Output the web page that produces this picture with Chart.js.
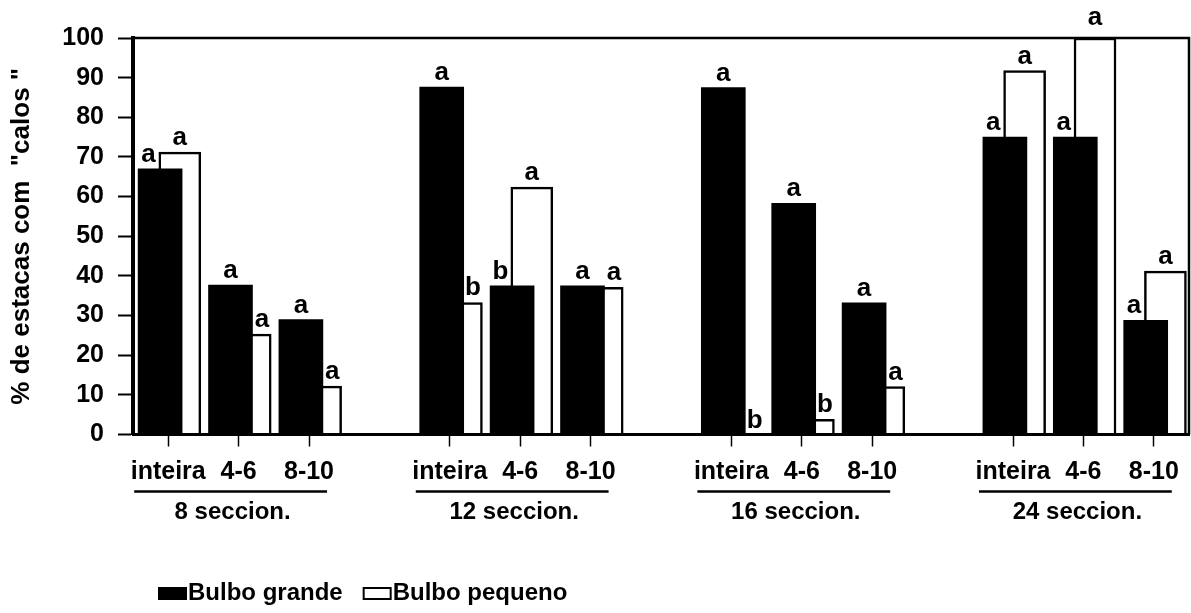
<!DOCTYPE html>
<html>
<head>
<meta charset="utf-8">
<title>% de estacas com "calos"</title>
<script src="https://cdn.jsdelivr.net/npm/chart.js"></script>
<style>
    html, body { margin: 0; padding: 0; background: #fff; }
    #grafico { display: block; }
</style>
</head>
<body>
<canvas id="grafico" width="1191" height="613"></canvas>
<script>
(function() {
    'use strict';

    // Posição de cada categoria no eixo x (um espaço vazio entre os grupos)
    var posicoes = [0, 1, 2, 4, 5, 6, 8, 9, 10, 12, 13, 14];
    var categorias = ['inteira', '4-6', '8-10', 'inteira', '4-6', '8-10',
                      'inteira', '4-6', '8-10', 'inteira', '4-6', '8-10'];
    var grupos = ['8 seccion.', '12 seccion.', '16 seccion.', '24 seccion.'];

    // % de estacas com "calos"
    var bulboGrande  = [67, 37.7, 29, 87.6, 37.5, 37.5, 87.5, 58.3, 33.2, 75, 75, 28.8];
    var bulboPequeno = [71.2, 25.3, 12.2, 33.3, 62.4, 37.1, 0, 3.8, 12.1, 91.8, 100, 41.2];

    // Letras do teste de médias
    var letrasGrande  = ['a', 'a', 'a', 'a', 'b', 'a', 'a', 'a', 'a', 'a', 'a', 'a'];
    var letrasPequeno = ['a', 'a', 'a', 'b', 'a', 'a', 'b', 'b', 'a', 'a', 'a', 'a'];

    var FONTE = '"Liberation Sans", Arial, Helvetica, sans-serif';

    /**
     * Letras acima das barras
     */
    var rotulosBarras = {
        id: 'rotulosBarras',
        afterDatasetsDraw: function(chart) {
            var c = chart.ctx;
            var grande = chart.getDatasetMeta(0).data;
            var pequeno = chart.getDatasetMeta(1).data;
            var topo = chart.chartArea.top;
            c.save();
            c.font = 'bold 26px ' + FONTE;
            c.fillStyle = '#000';
            c.textAlign = 'center';
            c.textBaseline = 'alphabetic';
            grande.forEach(function(g, i) {
                var p = pequeno[i];
                var gEsq = g.x - g.width / 2, gDir = g.x + g.width / 2;
                var pEsq = p.x - p.width / 2, pDir = p.x + p.width / 2;
                var xg = p.y < g.y ? (gEsq + pEsq) / 2 : g.x;
                var xp = g.y < p.y ? (gDir + pDir) / 2 : p.x;
                c.fillText(letrasGrande[i], xg, g.y - 7 - (g.y <= topo + 1 ? 6 : 0));
                c.fillText(letrasPequeno[i], xp, p.y - 7 - (p.y <= topo + 1 ? 6 : 0));
            });
            c.restore();
        }
    };

    /**
     * Moldura superior e direita da área do gráfico
     */
    var moldura = {
        id: 'moldura',
        afterDraw: function(chart) {
            var c = chart.ctx;
            var a = chart.chartArea;
            c.save();
            c.strokeStyle = '#000';
            c.lineWidth = 2.5;
            c.beginPath();
            c.moveTo(a.left, a.top);
            c.lineTo(a.right, a.top);
            c.lineTo(a.right, a.bottom);
            c.stroke();
            c.restore();
        }
    };

    /**
     * Nome de cada grupo, sublinhado, abaixo dos rótulos do eixo x
     */
    var nomesGrupos = {
        id: 'nomesGrupos',
        afterDraw: function(chart) {
            var c = chart.ctx;
            var xs = chart.scales.x;
            var base = chart.chartArea.bottom;
            c.save();
            c.strokeStyle = '#000';
            c.fillStyle = '#000';
            c.lineWidth = 2.5;
            c.font = 'bold 24px ' + FONTE;
            c.textAlign = 'center';
            c.textBaseline = 'alphabetic';
            grupos.forEach(function(nome, g) {
                var x0 = xs.getPixelForValue(posicoes[g * 3]);
                var x1 = xs.getPixelForValue(posicoes[g * 3 + 1]);
                var x2 = xs.getPixelForValue(posicoes[g * 3 + 2]);
                c.beginPath();
                c.moveTo(x0 - 34, base + 57);
                c.lineTo(x2 + 18, base + 57);
                c.stroke();
                c.fillText(nome, x1 - 6, base + 84);
            });
            c.restore();
        }
    };

    /**
     * Legenda no canto inferior esquerdo
     */
    var legenda = {
        id: 'legenda',
        afterDraw: function(chart) {
            var c = chart.ctx;
            var x = 158, yCaixa = 587, larguraCaixa = 29, alturaCaixa = 13, baseTexto = 600;
            c.save();
            c.font = 'bold 24px ' + FONTE;
            c.textBaseline = 'alphabetic';
            chart.data.datasets.forEach(function(ds) {
                c.fillStyle = ds.backgroundColor;
                c.fillRect(x, yCaixa, larguraCaixa, alturaCaixa);
                if (ds.borderWidth) {
                    c.strokeStyle = ds.borderColor;
                    c.lineWidth = 2;
                    c.strokeRect(x + 1, yCaixa + 1, larguraCaixa - 2, alturaCaixa - 2);
                }
                x += larguraCaixa + 1;
                c.fillStyle = '#000';
                c.fillText(ds.label, x, baseTexto);
                x += c.measureText(ds.label).width + 20;
            });
            c.restore();
        }
    };

    var ctx = document.getElementById('grafico').getContext('2d');
    new Chart(ctx, {
        type: 'bar',
        data: {
            datasets: [{
                label: 'Bulbo grande',
                data: bulboGrande.map(function(v, i) { return { x: posicoes[i] - 0.115, y: v }; }),
                backgroundColor: '#000',
                borderWidth: 0,
                barThickness: 44
            }, {
                label: 'Bulbo pequeno',
                data: bulboPequeno.map(function(v, i) { return { x: posicoes[i] + 0.165, y: v }; }),
                backgroundColor: '#fff',
                borderColor: '#000',
                borderWidth: 2.5,
                barThickness: 42
            }]
        },
        options: {
            responsive: false,
            animation: false,
            devicePixelRatio: 1,
            layout: { padding: { top: 38, right: 2, bottom: 0, left: 0 } },
            datasets: { bar: { grouped: false } },
            plugins: {
                legend: { display: false },
                tooltip: { enabled: false }
            },
            scales: {
                x: {
                    type: 'linear',
                    position: 'bottom',
                    min: -0.5,
                    max: 14.5,
                    offset: false,
                    afterBuildTicks: function(scale) {
                        scale.ticks = posicoes.map(function(p) { return { value: p }; });
                    },
                    afterFit: function(scale) { scale.height = 178.5; },
                    grid: {
                        offset: false,
                        drawOnChartArea: false,
                        tickLength: 12,
                        tickWidth: 1.5,
                        tickColor: '#000'
                    },
                    border: { display: true, color: '#000', width: 3, z: 1 },
                    ticks: {
                        autoSkip: false,
                        maxRotation: 0,
                        minRotation: 0,
                        padding: 11,
                        color: '#000',
                        font: { family: FONTE, size: 25, weight: 'bold' },
                        callback: function(v) {
                            var i = posicoes.indexOf(v);
                            return i >= 0 ? categorias[i] : '';
                        }
                    }
                },
                y: {
                    type: 'linear',
                    position: 'left',
                    min: 0,
                    max: 100,
                    afterFit: function(scale) { scale.width = 133; },
                    ticks: {
                        stepSize: 10,
                        padding: 14,
                        color: '#000',
                        font: { family: FONTE, size: 25, weight: 'bold' }
                    },
                    grid: {
                        drawOnChartArea: false,
                        tickLength: 15,
                        tickWidth: 2,
                        tickColor: '#000'
                    },
                    border: { display: true, color: '#000', width: 4 },
                    title: {
                        display: true,
                        text: '% de estacas com  "calos "',
                        color: '#000',
                        font: { family: FONTE, size: 26, weight: 'bold' },
                        padding: { top: 6, bottom: 0 }
                    }
                },
                yMenor: {
                    type: 'linear',
                    position: 'left',
                    min: 0,
                    max: 100,
                    afterBuildTicks: function(scale) {
                        var t = [];
                        for (var v = 0; v <= 100; v += 2) t.push({ value: v });
                        scale.ticks = t;
                    },
                    afterFit: function(scale) { scale.width = 0; },
                    ticks: { display: false },
                    grid: {
                        drawOnChartArea: false,
                        tickLength: 7,
                        tickWidth: 1.5,
                        tickColor: '#000'
                    },
                    border: { display: false }
                }
            }
        },
        plugins: [rotulosBarras, moldura, nomesGrupos, legenda]
    });
})();
</script>
</body>
</html>
